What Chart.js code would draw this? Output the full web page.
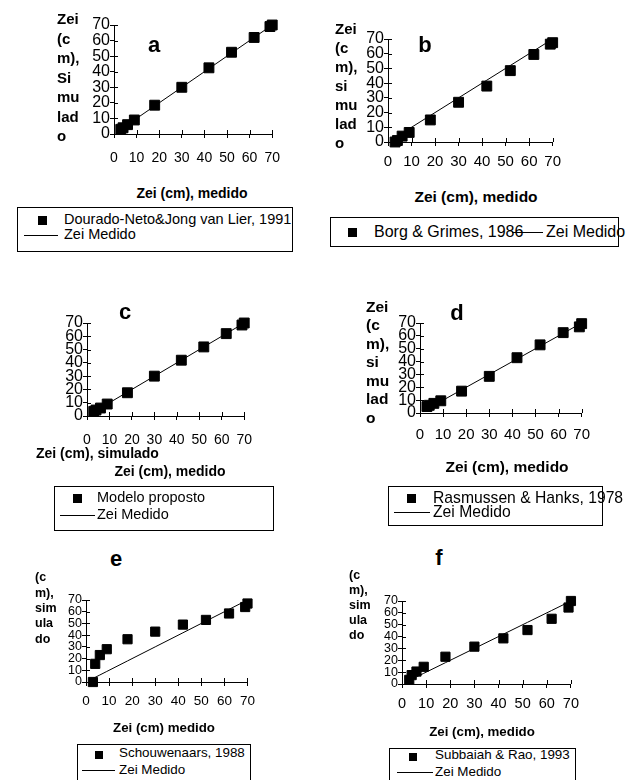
<!DOCTYPE html>
<html>
<head>
<meta charset="utf-8">
<script src="https://cdn.jsdelivr.net/npm/chart.js@4.4.0/dist/chart.umd.min.js"></script>
<style>
  body { margin: 0; background: #fff; width: 628px; height: 780px; overflow: hidden; position: relative;
         font-family: "Liberation Sans", Arial, sans-serif; color: #000; }
  canvas { position: absolute; }
  .t { position: absolute; white-space: nowrap; }
  .box { position: absolute; border: 1px solid #000; box-sizing: border-box; }
  .mk { position: absolute; background: #000; }
  .ln { position: absolute; height: 1px; background: #000; }
</style>
</head>
<body>
<script>
// measured Zei (cm), x of every panel and the 1:1 "Zei Medido" line
const measured = [3, 4, 6, 9, 18, 30, 42, 52, 62, 69, 70];

// simulated Zei (cm) for each model
const simA = [3, 4, 6, 9, 18.5, 30, 42.5, 52.5, 62, 69, 70];      // Dourado-Neto & Jong van Lier
const simB = [0, 1, 4, 6.5, 15, 27, 38, 48.5, 59.5, 66.5, 67.5];   // Borg & Grimes
const simC = [3.5, 4.5, 6, 9, 17.5, 30, 42, 52, 62, 68.5, 70];     // Modelo proposto
const simD = [5, 6, 7.5, 9.5, 17, 28.5, 43, 53, 62.5, 67, 69.5];   // Rasmussen & Hanks
const simE = [0, 15.5, 23, 28, 36.5, 43, 49, 53, 58.5, 64, 67];    // Schouwenaars
const simF = [3.5, 7.5, 10.5, 14.5, 23, 31.5, 38.5, 45.5, 55, 64.5, 70]; // Subbaiah & Rao

const tickValues = [0, 10, 20, 30, 40, 50, 60, 70];

const FONT = '"Liberation Sans", Arial, sans-serif';

function addText(html, x, y, size, bold, center) {
    const d = document.createElement('div');
    d.className = 't';
    d.style.fontSize = size + 'px';
    d.style.lineHeight = (size * 1.2) + 'px';
    d.style.top = (y - size * 0.6) + 'px';
    d.style.left = x + 'px';
    if (bold) d.style.fontWeight = 'bold';
    if (center) d.style.transform = 'translateX(-50%)';
    d.innerHTML = html;
    document.body.appendChild(d);
}

function addLines(lines, x, yFirst, spacing, size) {
    const d = document.createElement('div');
    d.className = 't';
    d.style.fontSize = size + 'px';
    d.style.fontWeight = 'bold';
    d.style.lineHeight = spacing + 'px';
    d.style.left = x + 'px';
    d.style.top = (yFirst - spacing / 2) + 'px';
    d.innerHTML = lines.join('<br>');
    document.body.appendChild(d);
}

function addLegend(lg) {
    const box = document.createElement('div');
    box.className = 'box';
    box.style.left = lg.box[0] + 'px';
    box.style.top = lg.box[1] + 'px';
    box.style.width = lg.box[2] + 'px';
    box.style.height = lg.box[3] + 'px';
    document.body.appendChild(box);

    const mk = document.createElement('div');
    mk.className = 'mk';
    mk.style.left = (lg.mk[0] - lg.mk[2] / 2) + 'px';
    mk.style.top = (lg.mk[1] - lg.mk[2] / 2) + 'px';
    mk.style.width = lg.mk[2] + 'px';
    mk.style.height = lg.mk[2] + 'px';
    document.body.appendChild(mk);

    const ln = document.createElement('div');
    ln.className = 'ln';
    ln.style.left = lg.line[0] + 'px';
    ln.style.width = (lg.line[1] - lg.line[0]) + 'px';
    ln.style.top = lg.line[2] + 'px';
    document.body.appendChild(ln);

    addText(lg.t1[0], lg.t1[1], lg.t1[2], lg.font, false, false);
    addText(lg.t2[0], lg.t2[1], lg.t2[2], lg.font, false, false);
}

// tick marks in the old spreadsheet style cross the axis, so add the inner half
const crossTicks = {
    id: 'crossTicks',
    afterDraw(chart) {
        const { ctx, chartArea, scales } = chart;
        ctx.save();
        ctx.strokeStyle = '#000';
        ctx.lineWidth = 1;
        ctx.beginPath();
        scales.x.ticks.forEach(t => {
            const px = Math.round(scales.x.getPixelForValue(t.value)) + 0.5;
            ctx.moveTo(px, chartArea.bottom);
            ctx.lineTo(px, chartArea.bottom - 4);
        });
        scales.y.ticks.forEach(t => {
            const py = Math.round(scales.y.getPixelForValue(t.value)) + 0.5;
            ctx.moveTo(chartArea.left, py);
            ctx.lineTo(chartArea.left + 4, py);
        });
        ctx.stroke();
        ctx.restore();
    }
};

function makeChart(p) {
    const yW = 30, xH = 34, pad = 12;
    const [L, T, R, B] = p.plot;
    const w = (R - L) + yW + pad * 2;
    const h = (B - T) + xH + pad * 2;
    const cv = document.createElement('canvas');
    cv.width = w;
    cv.height = h;
    cv.style.left = (L - yW - pad) + 'px';
    cv.style.top = (T - pad) + 'px';
    cv.style.width = w + 'px';
    cv.style.height = h + 'px';
    document.body.appendChild(cv);

    const axis = (size, padding, fitFn) => ({
        type: 'linear',
        min: 0,
        max: 70,
        afterFit: fitFn,
        afterBuildTicks: s => { s.ticks = tickValues.map(v => ({ value: v })); },
        grid: { drawOnChartArea: false, drawTicks: true, tickLength: 4, color: '#000' },
        border: { display: true, color: '#000', width: 1 },
        ticks: { color: '#000', font: { family: FONT, size: size }, padding: padding,
                 maxRotation: 0, autoSkip: false }
    });

    new Chart(cv, {
        type: 'scatter',
        data: {
            datasets: [{
                label: p.name,
                data: measured.map((v, i) => ({ x: v, y: p.sim[i] })),
                pointStyle: 'rect',
                pointRadius: p.r,
                backgroundColor: '#000',
                borderColor: '#000',
                borderWidth: 1,
                clip: false,
                order: 1
            }, {
                label: 'Zei Medido',
                data: measured.map(v => ({ x: v, y: v })),
                showLine: true,
                borderColor: '#000',
                borderWidth: 1,
                pointRadius: 0,
                clip: false,
                order: 2
            }]
        },
        options: {
            responsive: false,
            animation: false,
            layout: { padding: pad },
            plugins: { legend: { display: false }, tooltip: { enabled: false } },
            scales: {
                x: axis(p.xFont, p.xPad, s => { s.height = xH; }),
                y: axis(p.yFont, 0, s => { s.width = yW; })
            }
        },
        plugins: [crossTicks]
    });
}

const panels = [
    { name: 'Dourado-Neto&Jong van Lier, 1991', sim: simA, plot: [114, 25, 280, 134], yFont: 16, xFont: 14, xPad: 12, r: 7 },
    { name: 'Borg & Grimes, 1986', sim: simB, plot: [388, 39, 556, 142], yFont: 16, xFont: 15, xPad: 7, r: 7 },
    { name: 'Modelo proposto', sim: simC, plot: [87, 323, 252, 416], yFont: 16, xFont: 14, xPad: 12, r: 7 },
    { name: 'Rasmussen & Hanks, 1978', sim: simD, plot: [420, 323, 587, 413], yFont: 16, xFont: 15, xPad: 9, r: 7 },
    { name: 'Schouwenaars, 1988', sim: simE, plot: [86, 600, 250, 682], yFont: 12.5, xFont: 13.5, xPad: 7, r: 6.5 },
    { name: 'Subbaiah & Rao, 1993', sim: simF, plot: [402, 601, 574, 684], yFont: 12.5, xFont: 14.5, xPad: 7, r: 6.5 }
];
panels.forEach(makeChart);

// panel letters
addText('a', 154, 45, 22, true, true);
addText('b', 425, 45, 22, true, true);
addText('c', 125, 312, 22, true, true);
addText('d', 457, 313, 22, true, true);
addText('e', 116, 559, 22, true, true);
addText('f', 439, 558, 22, true, true);

// y titles
addLines(['Zei', '(c', 'm),', 'Si', 'mu', 'lad', 'o'], 57, 19, 19.5, 15);
addLines(['Zei', '(c', 'm),', 'si', 'mu', 'lad', 'o'], 335, 28, 19, 15);
addLines(['Zei', '(c', 'm),', 'si', 'mu', 'lad', 'o'], 366, 307, 18.5, 15.5);
addLines(['(c', 'm),', 'sim', 'ula', 'do'], 35, 578, 15.3, 12.5);
addLines(['(c', 'm),', 'sim', 'ula', 'do'], 349, 575, 15, 12.5);

// x titles
addText('Zei (cm), medido', 192, 193, 14, true, true);
addText('Zei (cm), medido', 476, 197, 15.5, true, true);
addText('Zei (cm), simulado', 36, 453, 14, true, false);
addText('Zei (cm), medido', 170, 471, 14, true, true);
addText('Zei (cm), medido', 507, 467, 15.5, true, true);
addText('Zei (cm) medido', 164, 728, 13.3, true, true);
addText('Zei (cm), medido', 482, 732, 13.3, true, true);

// legends
addLegend({ box: [17, 207, 276, 45], mk: [42, 220, 9], line: [24, 58, 235], font: 14.5,
            t1: ['Dourado-Neto&amp;Jong van Lier, 1991', 64, 220], t2: ['Zei Medido', 64, 235] });
addLegend({ box: [330, 217, 289, 30], mk: [352, 232, 9], line: [512, 543, 232], font: 16,
            t1: ['Borg &amp; Grimes, 1986', 374, 232], t2: ['Zei Medido', 546, 232] });
addLegend({ box: [54, 486, 220, 45], mk: [77, 498, 9], line: [60, 95, 515], font: 14.5,
            t1: ['Modelo proposto', 97, 498], t2: ['Zei Medido', 97, 515] });
addLegend({ box: [388, 486, 215, 40], mk: [411, 498, 9], line: [394, 430, 512], font: 15.7,
            t1: ['Rasmussen &amp; Hanks, 1978', 433, 498], t2: ['Zei Medido', 433, 512] });
addLegend({ box: [77, 744, 174, 50], mk: [99, 755, 8], line: [82, 115, 770], font: 13.4,
            t1: ['Schouwenaars, 1988', 119, 753], t2: ['Zei Medido', 119, 770] });
addLegend({ box: [389, 748, 187, 50], mk: [413, 757, 8], line: [397, 433, 772], font: 13.4,
            t1: ['Subbaiah &amp; Rao, 1993', 435, 755], t2: ['Zei Medido', 435, 772] });
</script>
</body>
</html>
